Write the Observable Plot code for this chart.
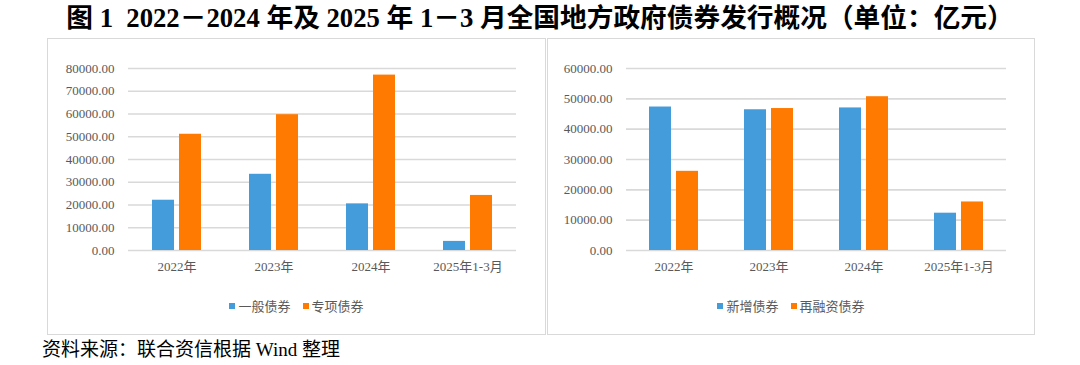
<!DOCTYPE html>
<html><head><meta charset="utf-8">
<script src="https://cdn.jsdelivr.net/npm/d3@7"></script>
<script src="https://cdn.jsdelivr.net/npm/@observablehq/plot@0.6"></script>
<style>
body{margin:0;background:#fff;width:1080px;height:365px;position:relative;overflow:hidden;font-family:"Liberation Serif","Noto Sans CJK SC",serif;}
#title{position:absolute;left:0;width:1080px;top:3px;text-align:center;font-weight:bold;font-size:26.7px;line-height:30px;color:#000;white-space:nowrap;}
.panel{position:absolute;top:38px;height:297px;border:1.5px solid #d9d9d9;box-sizing:border-box;}
.chart{position:absolute;top:1px;left:0;}
.legend{position:absolute;left:0;right:0;top:257px;display:flex;justify-content:center;align-items:center;font-size:13px;color:#595959;font-family:"Noto Sans CJK SC",sans-serif;}
.legend .item{display:flex;align-items:center;margin:0 6px;}
.legend .sw{width:6px;height:6px;margin-right:3px;}
#caption{position:absolute;left:42px;top:338px;font-size:19px;line-height:24px;color:#000;white-space:nowrap;}
</style>
</head><body>
<div id="title">图 1&nbsp; 2022－2024 年及 2025 年 1－3 月全国地方政府债券发行概况（单位：亿元）</div>
<div class="panel" id="p1" style="left:47px;width:499px;"></div>
<div class="panel" id="p2" style="left:547px;width:488px;"></div>
<div id="caption">资料来源：联合资信根据 Wind 整理</div>
<script>
const categories = ["2022年", "2023年", "2024年", "2025年1-3月"];
const leftSeries = ["一般债券", "专项债券"];
const generalBonds = [22100, 33500, 20500, 4000];
const specialBonds = [51100, 59700, 77100, 24200];
const rightSeries = ["新增债券", "再融资债券"];
const newBonds = [47300, 46400, 47000, 12300];
const refiBonds = [26100, 46800, 50700, 16000];
const leftTicks = [0, 10000, 20000, 30000, 40000, 50000, 60000, 70000, 80000];
const rightTicks = [0, 10000, 20000, 30000, 40000, 50000, 60000];
const colors = ["#459cda", "#ff7a00"];

function makeChart(panelId, series, vals1, vals2, ticks, width, marginLeft, marginRight) {
  const data = [];
  categories.forEach((c, i) => {
    data.push({cat: c, series: series[0], value: vals1[i]});
    data.push({cat: c, series: series[1], value: vals2[i]});
  });
  const fmt = d => d.toFixed(2);
  const chart = Plot.plot({
    width, height: 250,
    marginLeft, marginRight, marginTop: 28, marginBottom: 40,
    style: {fontFamily: '"Liberation Serif","Noto Sans CJK SC",serif', fontSize: "13px", color: "#595959", background: "transparent"},
    fx: {domain: categories, padding: 0, label: null},
    x: {domain: series, paddingInner: 0.2, paddingOuter: 0.85, axis: null},
    y: {domain: [0, ticks[ticks.length - 1]], label: null, axis: null},
    color: {domain: series, range: colors},
    marks: [
      Plot.ruleY(ticks, {stroke: "#d9d9d9", strokeWidth: 1.6}),
      Plot.barY(data, {fx: "cat", x: "series", y: "value", fill: "series"}),
      Plot.axisY({ticks, tickFormat: fmt, tickSize: 0, tickPadding: 14, label: null}),
      Plot.axisFx({anchor: "bottom", tickSize: 0, tickPadding: 11, label: null, fontFamily: '"Liberation Serif","Noto Sans CJK SC",serif'})
    ]
  });
  chart.classList.add("chart");
  const panel = document.getElementById(panelId);
  panel.appendChild(chart);
  const legend = document.createElement("div");
  legend.className = "legend";
  series.forEach((s, i) => {
    const item = document.createElement("div");
    item.className = "item";
    const sw = document.createElement("span");
    sw.className = "sw";
    sw.style.background = colors[i];
    const t = document.createElement("span");
    t.textContent = s;
    item.appendChild(sw);
    item.appendChild(t);
    legend.appendChild(item);
  });
  panel.appendChild(legend);
}

makeChart("p1", leftSeries, generalBonds, specialBonds, leftTicks, 496, 79, 27);
makeChart("p2", rightSeries, newBonds, refiBonds, rightTicks, 485, 77, 27);
</script>
</body></html>
